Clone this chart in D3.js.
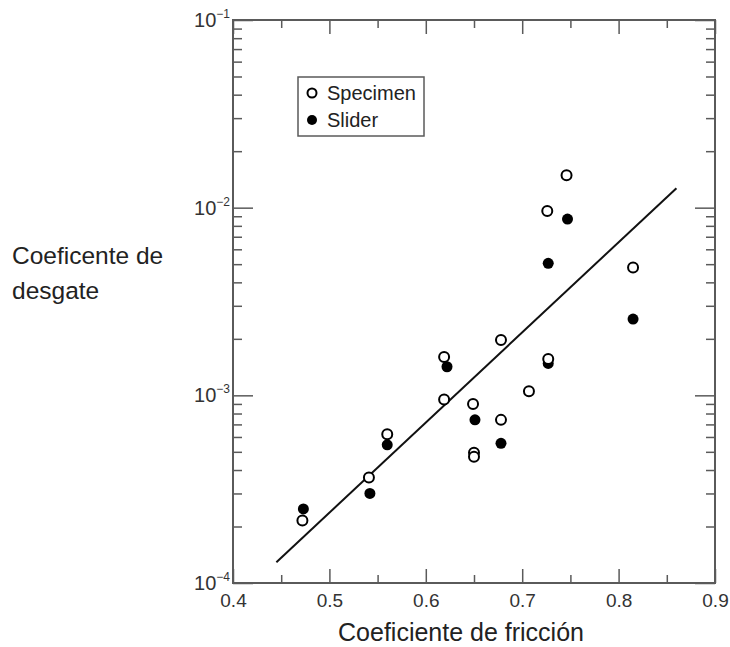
<!DOCTYPE html>
<html>
<head>
<meta charset="utf-8">
<script src="https://cdn.jsdelivr.net/npm/d3@7"></script>
<style>
  body { margin: 0; background: #fff; }
  svg { font-family: "Liberation Sans", Arial, sans-serif; }
</style>
</head>
<body>
<div id="chart"></div>
<script>
// wear coefficient vs friction coefficient
const specimenX = [0.472, 0.541, 0.560, 0.619, 0.619, 0.649, 0.650, 0.650, 0.678, 0.678, 0.707, 0.727, 0.726, 0.746, 0.815];
const specimenY = [2.15e-4, 3.65e-4, 6.2e-4, 1.6e-3, 9.5e-4, 9.0e-4, 4.95e-4, 4.7e-4, 1.97e-3, 7.4e-4, 1.05e-3, 1.56e-3, 9.6e-3, 1.49e-2, 4.8e-3];

const sliderX = [0.473, 0.542, 0.560, 0.622, 0.651, 0.678, 0.727, 0.727, 0.747, 0.815];
const sliderY = [2.48e-4, 3.0e-4, 5.45e-4, 1.42e-3, 7.4e-4, 5.55e-4, 1.48e-3, 5.05e-3, 8.7e-3, 2.55e-3];

const fitX = [0.445, 0.86];
const fitY = [1.29e-4, 1.27e-2];

const xMajor = [0.4, 0.5, 0.6, 0.7, 0.8, 0.9];
const xMinor = [0.45, 0.55, 0.65, 0.75, 0.85];
const yDecades = [1e-4, 1e-3, 1e-2, 1e-1];
const yExponents = ["\u22124", "\u22123", "\u22122", "\u22121"];

const legendNames = ["Specimen", "Slider"];

const width = 730, height = 647;
const margin = {top: 20, right: 15, bottom: 64, left: 233};
const innerW = width - margin.left - margin.right;
const innerH = height - margin.top - margin.bottom;

const axisColor = "#5a5a5a";

var svg = d3.select("#chart")
    .append("svg")
    .attr("width", width)
    .attr("height", height);

var g = svg.append("g")
    .attr("transform", `translate(${margin.left},${margin.top})`);

let x = d3.scaleLinear().domain([0.4, 0.9]).range([0, innerW]);
let y = d3.scaleLog().domain([1e-4, 1e-1]).range([innerH, 0]);

// minor log ticks 2..9 per decade
let yMinor = [];
yDecades.slice(0, 3).forEach(function(d) {
    for (let k = 2; k <= 9; k++) yMinor.push(d * k);
});

function styleAxis(sel) {
    sel.select(".domain").remove();
    sel.selectAll(".tick line").attr("stroke", axisColor).attr("stroke-width", 1.5);
}

// bottom
g.append("g").attr("transform", `translate(0,${innerH})`)
    .call(d3.axisBottom(x).tickValues(xMajor).tickSize(-14).tickPadding(11).tickFormat(d3.format(".1f")))
    .call(styleAxis)
    .call(s => s.selectAll("text").attr("font-size", 19).attr("fill", "#333")
        .attr("font-family", "Liberation Sans, Arial, sans-serif"));
g.append("g").attr("transform", `translate(0,${innerH})`)
    .call(d3.axisBottom(x).tickValues(xMinor).tickSize(-8).tickFormat(""))
    .call(styleAxis);

// top
g.append("g")
    .call(d3.axisTop(x).tickValues(xMajor).tickSize(-14).tickFormat(""))
    .call(styleAxis);
g.append("g")
    .call(d3.axisTop(x).tickValues(xMinor).tickSize(-8).tickFormat(""))
    .call(styleAxis);

// left
g.append("g")
    .call(d3.axisLeft(y).tickValues(yDecades).tickSize(-20).tickFormat(""))
    .call(styleAxis);
g.append("g")
    .call(d3.axisLeft(y).tickValues(yMinor).tickSize(-9).tickFormat(""))
    .call(styleAxis);

// right
g.append("g").attr("transform", `translate(${innerW},0)`)
    .call(d3.axisRight(y).tickValues(yDecades).tickSize(-20).tickFormat(""))
    .call(styleAxis);
g.append("g").attr("transform", `translate(${innerW},0)`)
    .call(d3.axisRight(y).tickValues(yMinor).tickSize(-9).tickFormat(""))
    .call(styleAxis);

// frame
g.append("rect")
    .attr("width", innerW)
    .attr("height", innerH)
    .attr("fill", "none")
    .attr("stroke", axisColor)
    .attr("stroke-width", 2);

// y tick labels 10^n
let yLab = g.selectAll(".ylab").data(yDecades).enter()
    .append("text")
    .attr("class", "ylab")
    .attr("x", -3)
    .attr("y", d => y(d) + 7)
    .attr("text-anchor", "end")
    .attr("fill", "#333");
yLab.append("tspan").attr("font-size", 20).text("10");
yLab.append("tspan").attr("font-size", 12).attr("dy", -9).text((d, i) => yExponents[i]);

// fit line
let fit = fitX.map((d, i) => [d, fitY[i]]);
g.append("path")
    .datum(fit)
    .attr("fill", "none")
    .attr("stroke", "#111")
    .attr("stroke-width", 2)
    .attr("d", d3.line().x(d => x(d[0])).y(d => y(d[1])));

// slider (filled)
g.selectAll(".slider").data(sliderX).enter()
    .append("circle")
    .attr("class", "slider")
    .attr("cx", d => x(d))
    .attr("cy", (d, i) => y(sliderY[i]))
    .attr("r", 5.5)
    .attr("fill", "#000");

// specimen (open)
g.selectAll(".specimen").data(specimenX).enter()
    .append("circle")
    .attr("class", "specimen")
    .attr("cx", d => x(d))
    .attr("cy", (d, i) => y(specimenY[i]))
    .attr("r", 5)
    .attr("fill", "#fff")
    .attr("stroke", "#000")
    .attr("stroke-width", 2);

// legend
let legend = g.append("g").attr("transform", "translate(65,57)");
legend.append("rect")
    .attr("width", 126)
    .attr("height", 59)
    .attr("fill", "#fff")
    .attr("stroke", axisColor)
    .attr("stroke-width", 1.5);
legendNames.forEach(function(name, i) {
    let row = legend.append("g").attr("transform", `translate(0,${16 + i * 27})`);
    row.append("circle")
        .attr("cx", 14)
        .attr("cy", 0)
        .attr("r", i == 0 ? 4.5 : 5)
        .attr("fill", i == 0 ? "#fff" : "#000")
        .attr("stroke", "#000")
        .attr("stroke-width", i == 0 ? 2 : 0);
    row.append("text")
        .attr("x", 29)
        .attr("y", 7)
        .attr("font-size", 20)
        .attr("fill", "#222")
        .text(name);
});

// axis titles
svg.append("text")
    .attr("x", 461)
    .attr("y", 641)
    .attr("text-anchor", "middle")
    .attr("font-size", 25)
    .attr("fill", "#222")
    .text("Coeficiente de fricción");

let yTitle = svg.append("text")
    .attr("font-size", 24.5)
    .attr("fill", "#222");
yTitle.append("tspan").attr("x", 12).attr("y", 264).text("Coeficente de");
yTitle.append("tspan").attr("x", 12).attr("y", 299).text("desgate");
</script>
</body>
</html>
